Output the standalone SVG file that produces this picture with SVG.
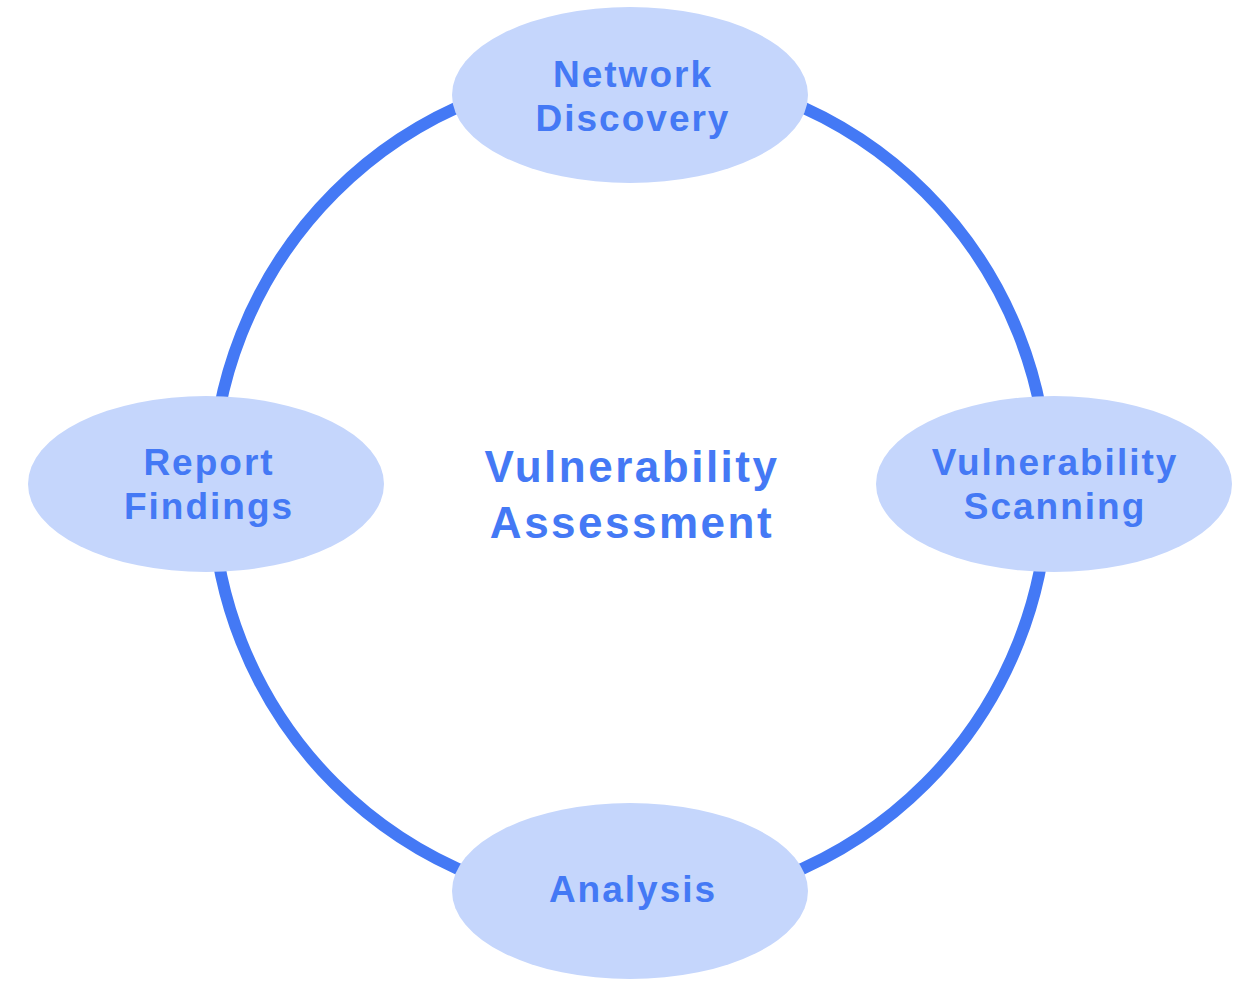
<svg xmlns="http://www.w3.org/2000/svg" width="1260" height="984" viewBox="0 0 1260 984">
<style>
.n{fill:#c5d6fc}
.t{fill:#4479f5;font-family:"Liberation Sans",Arial,sans-serif;font-weight:bold;font-size:37px;letter-spacing:2px;text-anchor:middle}
.c{font-size:44px;letter-spacing:2.5px}
</style>
<rect width="1260" height="984" fill="#fff"/>
<g id="connectors"><circle cx="630" cy="488" r="418" fill="none" stroke="#4479f5" stroke-width="12"/></g>
<g id="center"><text class="t c" x="632" y="482">Vulnerability</text><text class="t c" x="632" y="538">Assessment</text></g>
<g id="n1"><ellipse class="n" cx="630" cy="95" rx="178" ry="88"/><text class="t" x="633" y="87">Network</text><text class="t" x="633" y="131">Discovery</text></g>
<g id="n2"><ellipse class="n" cx="1054" cy="484" rx="178" ry="88"/><text class="t" x="1055" y="475">Vulnerability</text><text class="t" x="1055" y="519">Scanning</text></g>
<g id="n3"><ellipse class="n" cx="630" cy="891" rx="178" ry="88"/><text class="t" x="633" y="902">Analysis</text></g>
<g id="n4"><ellipse class="n" cx="206" cy="484" rx="178" ry="88"/><text class="t" x="209" y="475">Report</text><text class="t" x="209" y="519">Findings</text></g>
</svg>
